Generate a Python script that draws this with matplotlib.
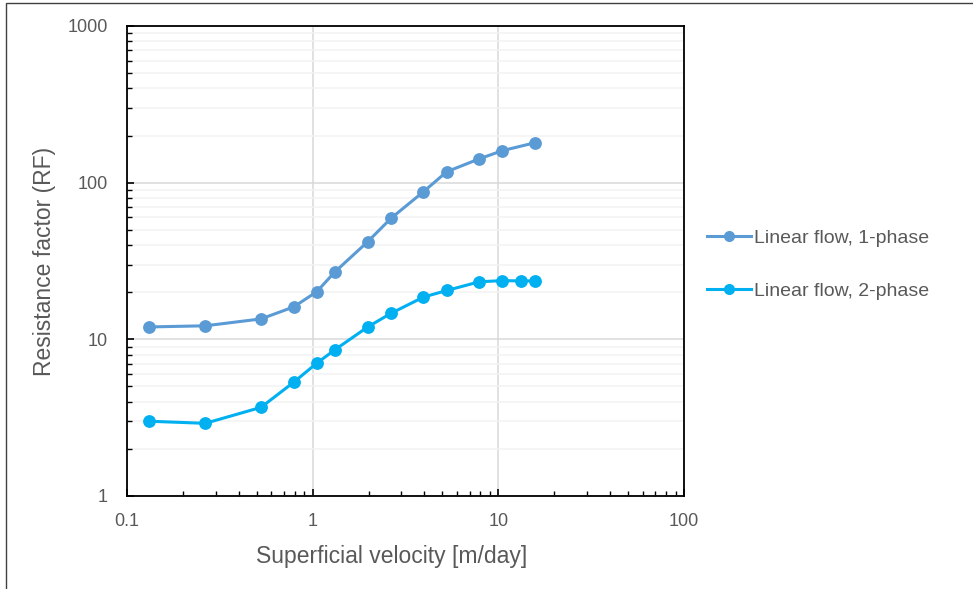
import matplotlib
matplotlib.use("Agg")
import matplotlib.pyplot as plt
from matplotlib.ticker import LogLocator, FixedLocator, FixedFormatter, NullFormatter
from matplotlib.patches import Rectangle

# Superficial velocity [m/day]
velocity_1p = [0.132, 0.264, 0.527, 0.79, 1.05, 1.32, 1.98, 2.64, 3.95, 5.27, 7.9, 10.5, 15.8]
velocity_2p = [0.132, 0.264, 0.527, 0.79, 1.05, 1.32, 1.98, 2.64, 3.95, 5.27, 7.9, 10.5, 13.2, 15.8]

# Resistance factor (RF)
rf_1phase = [12.0, 12.2, 13.5, 16.1, 20.1, 27.0, 42.0, 59.2, 87.5, 117.4, 142, 160, 180]
rf_2phase = [3.0, 2.91, 3.68, 5.32, 7.03, 8.59, 12.0, 14.65, 18.6, 20.5, 23.3, 23.7, 23.6, 23.6]

series_labels = ["Linear flow, 1-phase", "Linear flow, 2-phase"]
x_ticks = [0.1, 1, 10, 100]
x_tick_labels = ["0.1", "1", "10", "100"]
y_ticks = [1, 10, 100, 1000]
y_tick_labels = ["1", "10", "100", "1000"]

plt.rcParams['font.family'] = ['Liberation Sans', 'DejaVu Sans']
text_color = "#595959"

W, H = 973, 589
fig = plt.figure(figsize=(W / 100, H / 100), dpi=100)
# plot area in pixels: left 127, right 684, top 26, bottom 496
ax = fig.add_axes([127 / W, 1 - 496 / H, (684 - 127) / W, (496 - 26) / H])

ax.plot(velocity_1p, rf_1phase, color="#5B9BD5", lw=2.2, marker="o", ms=8.2,
        label=series_labels[0], zorder=3)
ax.plot(velocity_2p, rf_2phase, color="#00B0F0", lw=2.2, marker="o", ms=8.2,
        label=series_labels[1], zorder=3)

ax.set_xscale("log")
ax.set_yscale("log")
ax.set_xlim(0.1, 100)
ax.set_ylim(1, 1000)

ax.xaxis.set_major_locator(FixedLocator(x_ticks))
ax.xaxis.set_major_formatter(FixedFormatter(x_tick_labels))
ax.yaxis.set_major_locator(FixedLocator(y_ticks))
ax.yaxis.set_major_formatter(FixedFormatter(y_tick_labels))
ax.xaxis.set_minor_locator(LogLocator(base=10, subs=range(2, 10), numticks=20))
ax.yaxis.set_minor_locator(LogLocator(base=10, subs=range(2, 10), numticks=20))
ax.xaxis.set_minor_formatter(NullFormatter())
ax.yaxis.set_minor_formatter(NullFormatter())

# Gridlines: major both directions, minor only horizontal
ax.grid(which="major", axis="both", color="#D9D9D9", lw=1.1, zorder=0)
ax.grid(which="minor", axis="y", color="#F2F2F2", lw=1.1, zorder=0)
ax.set_axisbelow(True)

for side in ("left", "bottom", "top", "right"):
    ax.spines[side].set_color("black")
    ax.spines[side].set_linewidth(1.3)
    ax.spines[side].set_zorder(4)

ax.tick_params(which="major", direction="in", length=5, width=1.2, color="black",
               labelsize=13, labelcolor=text_color)
ax.tick_params(which="minor", direction="in", length=3.5, width=1.0, color="black")
ax.tick_params(axis="x", which="major", pad=12)
ax.tick_params(axis="y", which="major", pad=14)

ax.set_xlabel("Superficial velocity [m/day]", fontsize=16.5, color=text_color, labelpad=11)
ax.xaxis.label.set_x(0.475)
ax.set_ylabel("Resistance factor (RF)", fontsize=16.5, color=text_color, labelpad=8)

ax.legend(loc="center left", bbox_to_anchor=(1.009, 0.492), frameon=False,
          fontsize=14, labelcolor=text_color, handlelength=2.3, handletextpad=0.15,
          labelspacing=1.8, markerscale=0.85)

# Outer chart frame (top and left edges visible)
fig.patches.append(Rectangle((5.5 / W, -0.1), 1.2, 1.1 - 2.7 / H, transform=fig.transFigure,
                             fill=False, edgecolor="#404040", lw=1.0))

fig.savefig("out.png", dpi=100)
